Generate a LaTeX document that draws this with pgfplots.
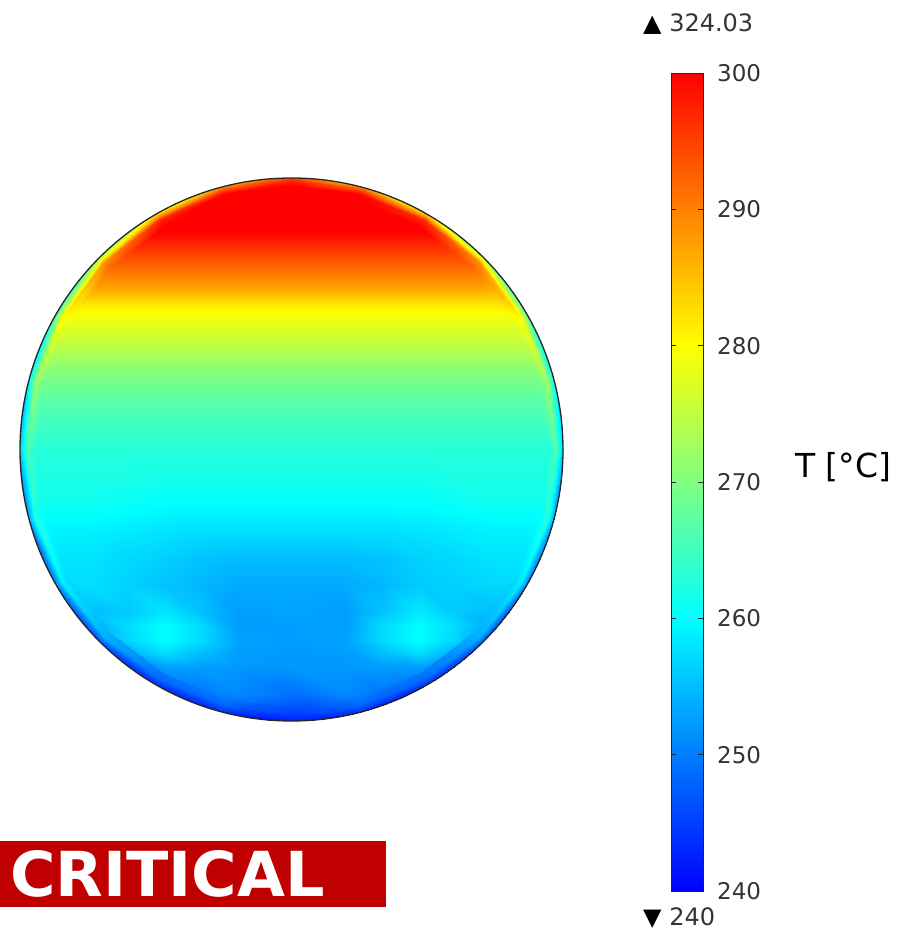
\documentclass[border=0pt]{standalone}
\usepackage{fontspec}
\setmainfont{DejaVu Sans}
\usepackage{pgfplots}
\usepackage{pgfplotstable}
\pgfplotsset{compat=1.18}
\pgfplotsset{colormap={comsol}{rgb255=(0,0,255) rgb255=(0,125,255) rgb255=(0,255,255) rgb255=(128,255,128) rgb255=(255,255,0) rgb255=(255,128,0) rgb255=(255,0,0)}}
\definecolor{critred}{RGB}{192,0,0}
\definecolor{lab}{RGB}{51,51,51}
% interior field: x y T (13 points per scanline)
\pgfplotstableread{
x y T
-1 -1.0 244
-0.75 -1.0 244
-0.6 -1.0 244
-0.47 -1.0 244
-0.34 -1.0 244
-0.2 -1.0 244
0 -1.0 244
0.2 -1.0 244
0.34 -1.0 244
0.47 -1.0 244
0.6 -1.0 244
0.75 -1.0 244
1 -1.0 244
-1 -0.9 245
-0.75 -0.9 246
-0.6 -0.9 247
-0.47 -0.9 248
-0.34 -0.9 249.5
-0.2 -0.9 251
0 -0.9 249
0.2 -0.9 251
0.34 -0.9 249.5
0.47 -0.9 248
0.6 -0.9 247
0.75 -0.9 246
1 -0.9 245
-1 -0.8 247
-0.75 -0.8 248
-0.6 -0.8 250
-0.47 -0.8 252.5
-0.34 -0.8 252.5
-0.2 -0.8 252
0 -0.8 252
0.2 -0.8 252
0.34 -0.8 252.5
0.47 -0.8 252.5
0.6 -0.8 250
0.75 -0.8 248
1 -0.8 247
-1 -0.75 248
-0.75 -0.75 249.5
-0.6 -0.75 254
-0.47 -0.75 257.5
-0.34 -0.75 255
-0.2 -0.75 252.5
0 -0.75 252
0.2 -0.75 252.5
0.34 -0.75 255
0.47 -0.75 257.5
0.6 -0.75 254
0.75 -0.75 249.5
1 -0.75 248
-1 -0.7 250
-0.75 -0.7 251
-0.6 -0.7 257
-0.47 -0.7 260
-0.34 -0.7 257.5
-0.2 -0.7 253
0 -0.7 252.5
0.2 -0.7 253
0.34 -0.7 257.5
0.47 -0.7 260
0.6 -0.7 257
0.75 -0.7 251
1 -0.7 250
-1 -0.65 252
-0.75 -0.65 253
-0.6 -0.65 257.5
-0.47 -0.65 260
-0.34 -0.65 257.5
-0.2 -0.65 252.5
0 -0.65 252.5
0.2 -0.65 252.5
0.34 -0.65 257.5
0.47 -0.65 260
0.6 -0.65 257.5
0.75 -0.65 253
1 -0.65 252
-1 -0.6 254
-0.75 -0.6 255
-0.6 -0.6 256
-0.47 -0.6 258
-0.34 -0.6 255.5
-0.2 -0.6 252.5
0 -0.6 253
0.2 -0.6 252.5
0.34 -0.6 255.5
0.47 -0.6 258.5
0.6 -0.6 256
0.75 -0.6 255
1 -0.6 254
-1 -0.5 257
-0.75 -0.5 257.5
-0.6 -0.5 256.5
-0.47 -0.5 255.5
-0.34 -0.5 254.5
-0.2 -0.5 253.5
0 -0.5 253.5
0.2 -0.5 253.5
0.34 -0.5 254.5
0.47 -0.5 256
0.6 -0.5 256.5
0.75 -0.5 257
1 -0.5 257
-1 -0.4 258
-0.75 -0.4 258
-0.6 -0.4 257
-0.47 -0.4 256.5
-0.34 -0.4 255.5
-0.2 -0.4 255
0 -0.4 255
0.2 -0.4 255
0.34 -0.4 255.5
0.47 -0.4 256.5
0.6 -0.4 257
0.75 -0.4 258
1 -0.4 258
-1 -0.3 259
-0.75 -0.3 259
-0.6 -0.3 258.5
-0.47 -0.3 258
-0.34 -0.3 257.5
-0.2 -0.3 257.5
0 -0.3 257.5
0.2 -0.3 257.5
0.34 -0.3 257.5
0.47 -0.3 258
0.6 -0.3 258.5
0.75 -0.3 259
1 -0.3 259
-1 -0.2 261
-0.75 -0.2 261
-0.6 -0.2 260.5
-0.47 -0.2 260
-0.34 -0.2 260
-0.2 -0.2 260
0 -0.2 260
0.2 -0.2 260
0.34 -0.2 260
0.47 -0.2 260
0.6 -0.2 260.5
0.75 -0.2 261
1 -0.2 261
-1 -0.1 262
-0.75 -0.1 262
-0.6 -0.1 262
-0.47 -0.1 261.5
-0.34 -0.1 261.5
-0.2 -0.1 261.5
0 -0.1 261.5
0.2 -0.1 261.5
0.34 -0.1 261.5
0.47 -0.1 261.5
0.6 -0.1 262
0.75 -0.1 262
1 -0.1 262
-1 0.0 263
-0.75 0.0 263
-0.6 0.0 263
-0.47 0.0 263
-0.34 0.0 263
-0.2 0.0 263
0 0.0 263
0.2 0.0 263
0.34 0.0 263
0.47 0.0 263
0.6 0.0 263
0.75 0.0 263
1 0.0 263
-1 0.1 265
-0.75 0.1 265
-0.6 0.1 265
-0.47 0.1 265
-0.34 0.1 265
-0.2 0.1 265
0 0.1 265
0.2 0.1 265
0.34 0.1 265
0.47 0.1 265
0.6 0.1 265
0.75 0.1 265
1 0.1 265
-1 0.2 267.5
-0.75 0.2 267.5
-0.6 0.2 267.5
-0.47 0.2 267.5
-0.34 0.2 267.5
-0.2 0.2 267.5
0 0.2 267.5
0.2 0.2 267.5
0.34 0.2 267.5
0.47 0.2 267.5
0.6 0.2 267.5
0.75 0.2 267.5
1 0.2 267.5
-1 0.3 271
-0.75 0.3 271
-0.6 0.3 271
-0.47 0.3 271
-0.34 0.3 271
-0.2 0.3 271
0 0.3 271
0.2 0.3 271
0.34 0.3 271
0.47 0.3 271
0.6 0.3 271
0.75 0.3 271
1 0.3 271
-1 0.4 275.5
-0.75 0.4 275.5
-0.6 0.4 275.5
-0.47 0.4 275.5
-0.34 0.4 275.5
-0.2 0.4 275.5
0 0.4 275.5
0.2 0.4 275.5
0.34 0.4 275.5
0.47 0.4 275.5
0.6 0.4 275.5
0.75 0.4 275.5
1 0.4 275.5
-1 0.5 279.5
-0.75 0.5 279.5
-0.6 0.5 279.5
-0.47 0.5 279.5
-0.34 0.5 279.5
-0.2 0.5 279.5
0 0.5 279.5
0.2 0.5 279.5
0.34 0.5 279.5
0.47 0.5 279.5
0.6 0.5 279.5
0.75 0.5 279.5
1 0.5 279.5
-1 0.55 283
-0.75 0.55 283
-0.6 0.55 283
-0.47 0.55 283
-0.34 0.55 283
-0.2 0.55 283
0 0.55 283
0.2 0.55 283
0.34 0.55 283
0.47 0.55 283
0.6 0.55 283
0.75 0.55 283
1 0.55 283
-1 0.6 287.5
-0.75 0.6 287.5
-0.6 0.6 287.5
-0.47 0.6 287.5
-0.34 0.6 287.5
-0.2 0.6 287.5
0 0.6 287.5
0.2 0.6 287.5
0.34 0.6 287.5
0.47 0.6 287.5
0.6 0.6 287.5
0.75 0.6 287.5
1 0.6 287.5
-1 0.7 293.5
-0.75 0.7 293.5
-0.6 0.7 293.5
-0.47 0.7 293.5
-0.34 0.7 293.5
-0.2 0.7 293.5
0 0.7 293.5
0.2 0.7 293.5
0.34 0.7 293.5
0.47 0.7 293.5
0.6 0.7 293.5
0.75 0.7 293.5
1 0.7 293.5
-1 0.8 300
-0.75 0.8 300
-0.6 0.8 300
-0.47 0.8 300
-0.34 0.8 300
-0.2 0.8 300
0 0.8 300
0.2 0.8 300
0.34 0.8 300
0.47 0.8 300
0.6 0.8 300
0.75 0.8 300
1 0.8 300
-1 1.0 300
-0.75 1.0 300
-0.6 1.0 300
-0.47 1.0 300
-0.34 1.0 300
-0.2 1.0 300
0 1.0 300
0.2 1.0 300
0.34 1.0 300
0.47 1.0 300
0.6 1.0 300
0.75 1.0 300
1 1.0 300
}\interior
% wall layer: angle (deg), radius, T (25 points per scanline)
\pgfplotstableread{
a r T
0 0.95 263
15 0.95 269
30 0.95 278.5
45 0.95 291.5
60 0.95 300
75 0.95 300
90 0.95 300
105 0.95 300
120 0.95 300
135 0.95 291.5
150 0.95 278.5
165 0.95 269
180 0.95 263
195 0.95 260
210 0.95 257
225 0.95 254
240 0.95 249.5
255 0.95 249.5
270 0.95 246
285 0.95 249.5
300 0.95 249.5
315 0.95 254
330 0.95 257
345 0.95 260
360 0.95 263
0 0.975 266
15 0.975 272
30 0.975 280.5
45 0.975 289
60 0.975 297
75 0.975 300
90 0.975 300
105 0.975 300
120 0.975 297
135 0.975 289
150 0.975 280.5
165 0.975 272
180 0.975 266
195 0.975 263
210 0.975 259
225 0.975 254
240 0.975 248.5
255 0.975 248
270 0.975 245
285 0.975 248
300 0.975 248.5
315 0.975 254
330 0.975 259
345 0.975 263
360 0.975 266
0 0.992 259
15 0.992 264
30 0.992 271
45 0.992 279
60 0.992 287
75 0.992 293
90 0.992 297
105 0.992 293
120 0.992 287
135 0.992 279
150 0.992 271
165 0.992 264
180 0.992 259
195 0.992 256
210 0.992 253
225 0.992 249
240 0.992 245
255 0.992 245
270 0.992 243
285 0.992 245
300 0.992 245
315 0.992 249
330 0.992 253
345 0.992 256
360 0.992 259
0 1.01 253
15 1.01 256
30 1.01 262
45 1.01 270
60 1.01 278
75 1.01 285
90 1.01 292
105 1.01 285
120 1.01 278
135 1.01 270
150 1.01 262
165 1.01 256
180 1.01 253
195 1.01 250
210 1.01 248
225 1.01 245
240 1.01 243
255 1.01 242
270 1.01 241
285 1.01 242
300 1.01 243
315 1.01 245
330 1.01 248
345 1.01 250
360 1.01 253
}\wall
\begin{document}
\begin{tikzpicture}
\begin{scope}
\clip (291.5pt,482.5pt) circle (271.5pt);
\begin{axis}[at={(20pt,211pt)}, anchor=south west, width=543pt, height=543pt, scale only axis, hide axis,
  xmin=-1, xmax=1, ymin=-1, ymax=1, colormap name=comsol, point meta min=240, point meta max=300]
\addplot[surf, shader=interp, mesh/cols=13, point meta=explicit] table[x=x, y=y, meta=T] {\interior};
\addplot[surf, shader=interp, mesh/cols=25, point meta=explicit] table[x expr={\thisrow{r}*cos(\thisrow{a})}, y expr={\thisrow{r}*sin(\thisrow{a})}, meta=T] {\wall};
\end{axis}
\end{scope}
\draw[black!85, line width=1.3pt] (291.5pt,482.5pt) circle (271.5pt);

\begin{axis}[at={(671pt,41pt)}, anchor=south west, width=32pt, height=818pt, scale only axis,
  xmin=0, xmax=1, ymin=240, ymax=300, xtick=\empty, ytick={240,250,260,270,280,290,300},
  ytick pos=both, yticklabel pos=right, tick align=inside, major tick length=5pt,
  axis line style={draw=black!85, line width=0.9pt}, ytick style={draw=black!85, line width=0.9pt},
  yticklabel style={font=\fontsize{23}{23}\selectfont, text=lab, anchor=west, inner sep=0pt, xshift=14pt},
  /pgf/number format/assume math mode=true, colormap name=comsol, point meta min=240, point meta max=300, axis on top]
\addplot[surf, shader=interp, mesh/cols=2, point meta=y] coordinates {(0,240) (1,240) (0,300) (1,300)};
\end{axis}

\node[anchor=base west, inner sep=0pt, font=\fontsize{24}{24}\selectfont, text=lab] at (643pt,900pt) {{\color{black}▲} 324.03};
\node[anchor=base west, inner sep=0pt, font=\fontsize{24}{24}\selectfont, text=lab] at (643pt,6pt) {{\color{black}▼} 240};
\node[font=\fontsize{33}{33}\selectfont, text=black] at (843pt,465pt) {T [°C]};

\fill[critred] (0pt,25pt) rectangle (386pt,91pt);
\node[anchor=base west, inner sep=0pt, text=white, font=\bfseries\fontsize{62}{62}\selectfont] at (10pt,35pt) {CRITICAL};

\pgfresetboundingbox
\path[use as bounding box] (0pt,0pt) rectangle (908pt,932pt);
\end{tikzpicture}
\end{document}
